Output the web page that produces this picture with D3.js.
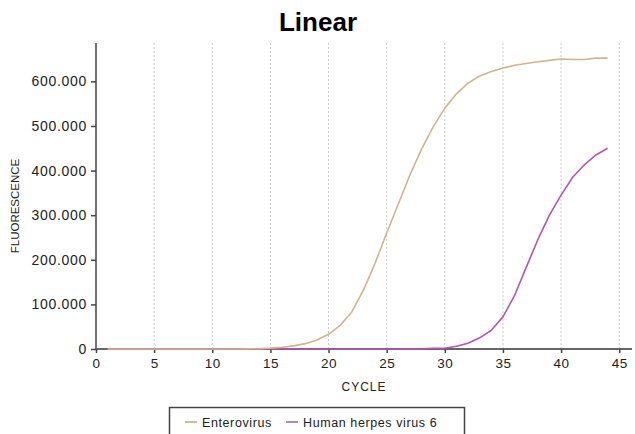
<!DOCTYPE html>
<html><head><meta charset="utf-8">
<script src="https://cdn.jsdelivr.net/npm/d3@7"></script>
<style>body{margin:0;background:#fff}svg{display:block}</style>
</head><body>
<svg id="c" width="635" height="434"></svg>
<script>
const cycles = d3.range(1, 45);
const enterovirus = [0,0,0,0,0,0,0,0,0,0,0,0,200,600,2000,4000,7000,12000,20000,33000,
  53000,83000,132000,192000,260000,325000,390000,448000,498000,540000,
  572000,596000,612000,622000,630000,636000,640000,644000,647000,650000,649000,649000,652000,652000];
const herpes = [0,0,0,0,0,0,0,0,0,0,0,0,0,0,0,0,0,0,0,0,
  0,0,0,0,0,0,0,500,1500,1500,6000,13000,25000,42000,72000,120000,183000,245000,300000,345000,
  385000,413000,435000,450000];
const seriesNames = ["Enterovirus", "Human herpes virus 6"];
const seriesColors = ["#d2b48c", "#b455b4"];
const xTicks = [0,5,10,15,20,25,30,35,40,45];
const yTicks = [0,100000,200000,300000,400000,500000,600000];
const title = "Linear", xTitle = "CYCLE", yTitle = "FLUORESCENCE";

const svg = d3.select("#c");
const L = 96, R = 632, T = 43, B = 349;
const x = d3.scaleLinear().domain([0, 46.1]).range([L, R]);
const y = d3.scaleLinear().domain([0, 686000]).range([B, T]);
const loc = d3.formatLocale({decimal: ",", thousands: ".", grouping: [3], currency: ["", ""]});
const fmt = loc.format(",d");

// grid
svg.append("g").selectAll("line").data(xTicks.filter(d => d > 0)).join("line")
  .attr("x1", d => x(d)).attr("x2", d => x(d)).attr("y1", T).attr("y2", B)
  .attr("stroke", "#c8c8c8").attr("stroke-width", 1).attr("stroke-dasharray", "2,2");

// axes
const font = "'Liberation Sans', Arial, sans-serif";
const ya = svg.append("g").attr("transform", `translate(${L},0)`)
  .call(d3.axisLeft(y).tickValues(yTicks).tickFormat(fmt).tickSize(5).tickPadding(4));
ya.select(".domain").attr("stroke", "#444").attr("stroke-width", 1.5).attr("d", `M0,${T}V${B}`);
ya.selectAll(".tick line").attr("stroke", "#444").attr("stroke-width", 1.5);
ya.selectAll("text").attr("font-family", font).attr("font-size", 14).attr("fill", "#222")
  .attr("letter-spacing", "0.7px");

const xa = svg.append("g").attr("transform", `translate(0,${B})`)
  .call(d3.axisBottom(x).tickValues(xTicks).tickFormat(d3.format("d")).tickSize(4).tickPadding(5));
xa.select(".domain").attr("stroke", "#666").attr("stroke-width", 2).attr("d", `M${L},0H${R}`);
xa.selectAll(".tick line").attr("stroke", "#444").attr("stroke-width", 1.5);
xa.selectAll("text").attr("font-family", font).attr("font-size", 13.5).attr("fill", "#222")
  .attr("letter-spacing", "0.5px");

// lines
const line = d3.line().x((d, i) => x(cycles[i])).y(d => y(d));
[herpes, enterovirus].forEach((s, k) => {
  const idx = k === 0 ? 1 : 0;
  svg.append("path").datum(s).attr("d", line).attr("fill", "none")
    .attr("stroke", seriesColors[idx]).attr("stroke-width", 1.6).attr("stroke-linejoin", "round");
});

// titles
svg.append("text").attr("x", 318).attr("y", 31).attr("text-anchor", "middle")
  .attr("font-family", font).attr("font-weight", "bold").attr("font-size", 26).attr("fill", "#000").text(title);
svg.append("text").attr("x", (L + R) / 2).attr("y", 391).attr("text-anchor", "middle")
  .attr("font-family", font).attr("font-size", 12).attr("letter-spacing", "1px").attr("fill", "#222").text(xTitle);
svg.append("text").attr("transform", "translate(19,206) rotate(-90)").attr("text-anchor", "middle")
  .attr("font-family", font).attr("font-size", 11.5).attr("fill", "#222").text(yTitle);

// legend
const lg = svg.append("g");
lg.append("rect").attr("x", 169.5).attr("y", 407.5).attr("width", 295).attr("height", 40)
  .attr("fill", "#fff").attr("stroke", "#444").attr("stroke-width", 1.5);
const lx = [185, 286];
seriesNames.forEach((n, i) => {
  lg.append("line").attr("x1", lx[i]).attr("x2", lx[i] + 12).attr("y1", 422).attr("y2", 422)
    .attr("stroke", i === 0 ? "#b9a888" : "#a0609a").attr("stroke-width", 1.5);
  lg.append("text").attr("x", lx[i] + 17).attr("y", 426.5).attr("font-family", font)
    .attr("font-size", 12.5).attr("letter-spacing", "0.6px").attr("fill", "#222").text(n);
});
</script>
</body></html>
